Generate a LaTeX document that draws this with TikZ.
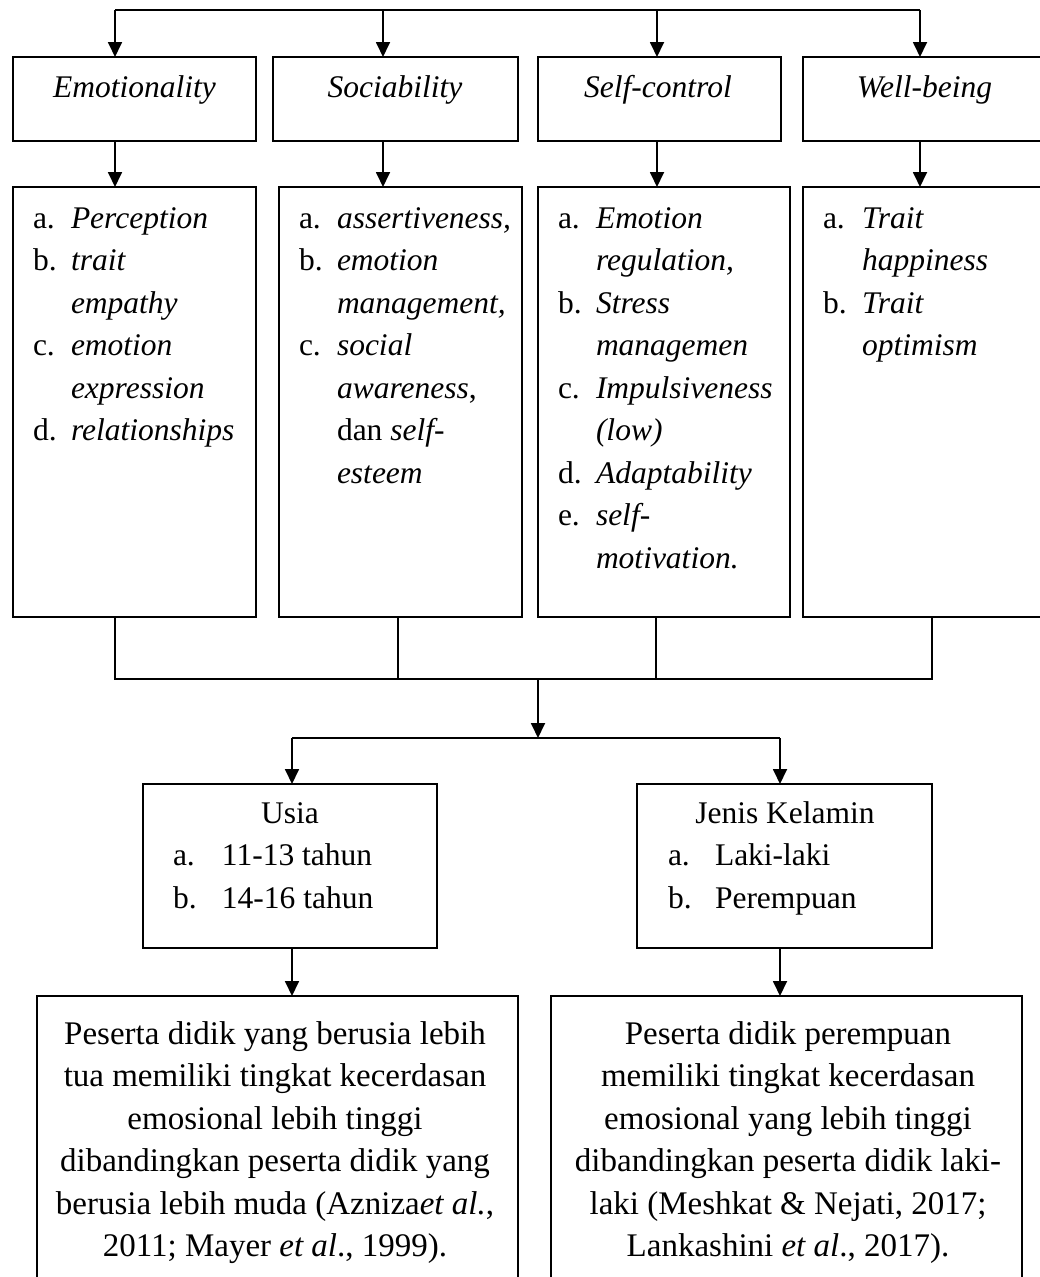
\documentclass[tikz,border=0pt]{standalone}
\usepackage{fontspec}
\setmainfont{Liberation Serif}
\usetikzlibrary{arrows.meta}
\begin{document}
\begin{tikzpicture}[x=1pt,y=-1pt,
  every node/.style={font=\fontsize{31.5}{42.5}\selectfont, inner sep=0pt, outer sep=0pt},
  boxs/.style={draw, line width=1.8pt, anchor=north west},
  ln/.style={line width=1.8pt},
  arr/.style={line width=1.8pt, -{Triangle[length=15pt,width=14pt]}},
  lbl/.style={anchor=base},
  big/.style={anchor=base, font=\fontsize{33}{42.5}\selectfont},
  lst/.style={anchor=base west}]
\useasboundingbox (0,0) rectangle (1040,1277);
\clip (0,0) rectangle (1040,1277);
% top boxes
\node[boxs, minimum width=243pt, minimum height=84pt] (t1) at (13,57) {};
\node[boxs, minimum width=245pt, minimum height=84pt] (t2) at (273,57) {};
\node[boxs, minimum width=243pt, minimum height=84pt] (t3) at (538,57) {};
\node[boxs, minimum width=260pt, minimum height=84pt] (t4) at (803,57) {};
\node[lbl] (t1l) at (134.5,97) {\textit{Emotionality}};
\node[lbl] (t2l) at (395,97) {\textit{Sociability}};
\node[lbl] (t3l) at (658,97) {\textit{Self-control}};
\node[lbl] (t4l) at (924.5,97) {\textit{Well-being}};
% list boxes
\node[boxs, minimum width=243pt, minimum height=430pt] (l1) at (13,187) {};
\node[boxs, minimum width=243pt, minimum height=430pt] (l2) at (279,187) {};
\node[boxs, minimum width=252pt, minimum height=430pt] (l3) at (538,187) {};
\node[boxs, minimum width=260pt, minimum height=430pt] (l4) at (803,187) {};
\node[lst] (l1t) at (33,228) {\begin{tabular}[t]{@{}p{38pt}@{}l@{}}
a. & \textit{Perception}\\
b. & \textit{trait}\\
   & \textit{empathy}\\
c. & \textit{emotion}\\
   & \textit{expression}\\
d. & \textit{relationships}
\end{tabular}};
\node[lst] (l2t) at (299,228) {\begin{tabular}[t]{@{}p{38pt}@{}l@{}}
a. & \textit{assertiveness,}\\
b. & \textit{emotion}\\
   & \textit{management,}\\
c. & \textit{social}\\
   & \textit{awareness},\\
   & dan \textit{self-}\\
   & \textit{esteem}
\end{tabular}};
\node[lst] (l3t) at (558,228) {\begin{tabular}[t]{@{}p{38pt}@{}l@{}}
a. & \textit{Emotion}\\
   & \textit{regulation,}\\
b. & \textit{Stress}\\
   & \textit{managemen}\\
c. & \textit{Impulsiveness}\\
   & \textit{(low)}\\
d. & \textit{Adaptability}\\
e. & \textit{self-}\\
   & \textit{motivation.}
\end{tabular}};
\node[lst] (l4t) at (823,228) {\begin{tabular}[t]{@{}p{39pt}@{}l@{}}
a. & \textit{Trait}\\
   & \textit{happiness}\\
b. & \textit{Trait}\\
   & \textit{optimism}
\end{tabular}};
% middle boxes
\node[boxs, minimum width=294pt, minimum height=164pt] (u) at (143,784) {};
\node[boxs, minimum width=295pt, minimum height=164pt] (j) at (637,784) {};
\node[lbl] (ul) at (290,823) {Usia};
\node[lst] (ut) at (173,865.5) {\begin{tabular}[t]{@{}p{49pt}@{}l@{}}
a. & 11-13 tahun\\
b. & 14-16 tahun
\end{tabular}};
\node[lbl] (jl) at (785,823) {Jenis Kelamin};
\node[lst] (jt) at (668,865.5) {\begin{tabular}[t]{@{}p{47pt}@{}l@{}}
a. & Laki-laki\\
b. & Perempuan
\end{tabular}};
% bottom boxes
\node[boxs, minimum width=481pt, minimum height=330pt] (p1) at (37,996) {};
\node[boxs, minimum width=471pt, minimum height=330pt] (p2) at (551,996) {};
\node[big] (p1t) at (275,1044) {\begin{tabular}[t]{@{}c@{}}
Peserta didik yang berusia lebih\\
tua memiliki tingkat kecerdasan\\
emosional lebih tinggi\\
dibandingkan peserta didik yang\\
berusia lebih muda (Azniza\textit{et al.},\\
2011; Mayer \textit{et al}., 1999).
\end{tabular}};
\node[big] (p2t) at (788,1044) {\begin{tabular}[t]{@{}c@{}}
Peserta didik perempuan\\
memiliki tingkat kecerdasan\\
emosional yang lebih tinggi\\
dibandingkan peserta didik laki-\\
laki (Meshkat \& Nejati, 2017;\\
Lankashini \textit{et al}., 2017).
\end{tabular}};
% connectors
\coordinate (c1) at (115,10);
\coordinate (c2) at (383,10);
\coordinate (c3) at (657,10);
\coordinate (c4) at (920,10);
\draw[ln] (c1) -- (c4);
\draw[arr] (c1) -- (c1 |- t1.north);
\draw[arr] (c2) -- (c2 |- t2.north);
\draw[arr] (c3) -- (c3 |- t3.north);
\draw[arr] (c4) -- (c4 |- t4.north);
\draw[arr] (c1 |- t1.south) -- (c1 |- l1.north);
\draw[arr] (c2 |- t2.south) -- (c2 |- l2.north);
\draw[arr] (c3 |- t3.south) -- (c3 |- l3.north);
\draw[arr] (c4 |- t4.south) -- (c4 |- l4.north);
\coordinate (d1) at (115,679);
\coordinate (d2) at (398,679);
\coordinate (d3) at (656,679);
\coordinate (d4) at (932,679);
\draw[ln] (d1 |- l1.south) -- (d1) -- (d4) -- (d4 |- l4.south);
\draw[ln] (d2 |- l2.south) -- (d2);
\draw[ln] (d3 |- l3.south) -- (d3);
\coordinate (m) at (538,679);
\coordinate (e1) at (292,738);
\coordinate (e2) at (780,738);
\draw[arr] (m) -- (m |- e1);
\draw[ln] (e1) -- (e2);
\draw[arr] (e1) -- (e1 |- u.north);
\draw[arr] (e2) -- (e2 |- j.north);
\draw[arr] (e1 |- u.south) -- (e1 |- p1.north);
\draw[arr] (e2 |- j.south) -- (e2 |- p2.north);
\end{tikzpicture}
\end{document}
